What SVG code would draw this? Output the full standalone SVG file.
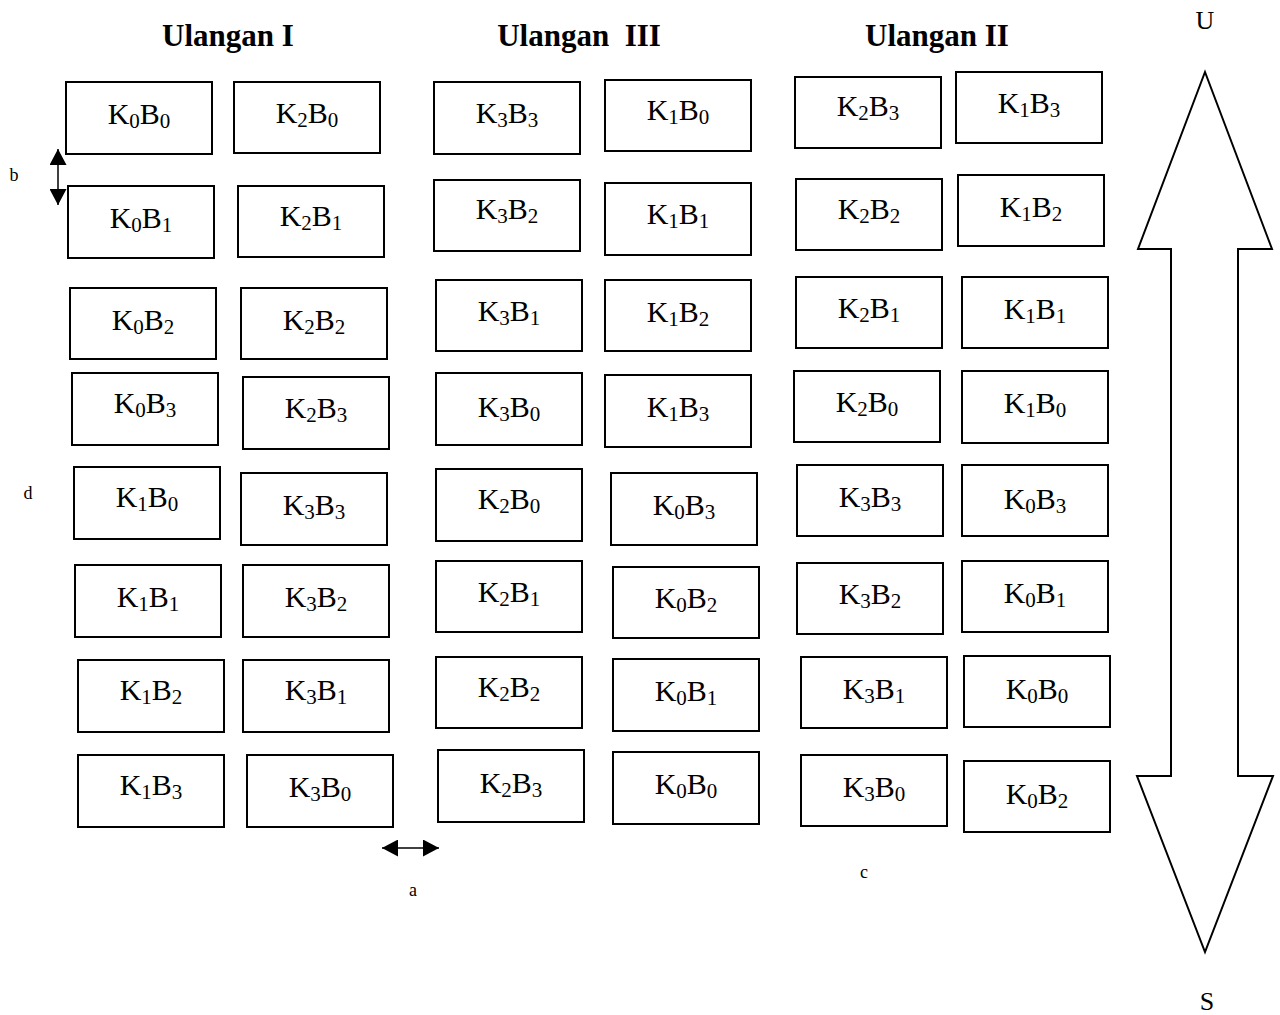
<svg xmlns="http://www.w3.org/2000/svg" width="1280" height="1015" viewBox="0 0 1280 1015">
<style>
  .bx { fill: #fff; stroke: #000; stroke-width: 2; }
  .lb { font-family: "Liberation Serif", "Times New Roman", serif; font-size: 30px; fill: #000; text-anchor: middle; }
  .s { font-size: 21px; }
  .ttl { font-family: "Liberation Serif", "Times New Roman", serif; font-size: 31px; font-weight: bold; fill: #000; text-anchor: middle; white-space: pre; }
  .sm { font-family: "Liberation Serif", "Times New Roman", serif; font-size: 18px; fill: #000; text-anchor: middle; }
  .dir { font-family: "Liberation Serif", "Times New Roman", serif; font-size: 26px; fill: #000; text-anchor: middle; }
  .cn { stroke: #000; stroke-width: 1.5; fill: none; }
</style>
<defs>
  <marker id="ah" markerUnits="userSpaceOnUse" markerWidth="17" markerHeight="17" refX="16" refY="8.5" orient="auto-start-reverse">
    <path d="M0,0 L16,8.5 L0,17 z" fill="#000"/>
  </marker>
</defs>
<rect width="1280" height="1015" fill="#fff"/>

<g id="titles">
  <text class="ttl" x="228" y="46">Ulangan I</text>
  <text class="ttl" x="579" y="46">Ulangan  III</text>
  <text class="ttl" x="937" y="46">Ulangan II</text>
</g>

<g id="col1">
  <g id="c1-K0B0"><rect class="bx" x="66" y="82" width="146" height="72"/><text class="lb" x="139" y="124">K<tspan class="s" dy="4">0</tspan><tspan dy="-4">B</tspan><tspan class="s" dy="4">0</tspan></text></g>
  <g id="c1-K0B1"><rect class="bx" x="68" y="186" width="146" height="72"/><text class="lb" x="141" y="228">K<tspan class="s" dy="4">0</tspan><tspan dy="-4">B</tspan><tspan class="s" dy="4">1</tspan></text></g>
  <g id="c1-K0B2"><rect class="bx" x="70" y="288" width="146" height="71"/><text class="lb" x="143" y="330">K<tspan class="s" dy="4">0</tspan><tspan dy="-4">B</tspan><tspan class="s" dy="4">2</tspan></text></g>
  <g id="c1-K0B3"><rect class="bx" x="72" y="373" width="146" height="72"/><text class="lb" x="145" y="413">K<tspan class="s" dy="4">0</tspan><tspan dy="-4">B</tspan><tspan class="s" dy="4">3</tspan></text></g>
  <g id="c1-K1B0"><rect class="bx" x="74" y="467" width="146" height="72"/><text class="lb" x="147" y="507">K<tspan class="s" dy="4">1</tspan><tspan dy="-4">B</tspan><tspan class="s" dy="4">0</tspan></text></g>
  <g id="c1-K1B1"><rect class="bx" x="75" y="565" width="146" height="72"/><text class="lb" x="148" y="607">K<tspan class="s" dy="4">1</tspan><tspan dy="-4">B</tspan><tspan class="s" dy="4">1</tspan></text></g>
  <g id="c1-K1B2"><rect class="bx" x="78" y="660" width="146" height="72"/><text class="lb" x="151" y="700">K<tspan class="s" dy="4">1</tspan><tspan dy="-4">B</tspan><tspan class="s" dy="4">2</tspan></text></g>
  <g id="c1-K1B3"><rect class="bx" x="78" y="755" width="146" height="72"/><text class="lb" x="151" y="795">K<tspan class="s" dy="4">1</tspan><tspan dy="-4">B</tspan><tspan class="s" dy="4">3</tspan></text></g>
</g>

<g id="col2">
  <g id="c2-K2B0"><rect class="bx" x="234" y="82" width="146" height="71"/><text class="lb" x="307" y="123">K<tspan class="s" dy="4">2</tspan><tspan dy="-4">B</tspan><tspan class="s" dy="4">0</tspan></text></g>
  <g id="c2-K2B1"><rect class="bx" x="238" y="186" width="146" height="71"/><text class="lb" x="311" y="226">K<tspan class="s" dy="4">2</tspan><tspan dy="-4">B</tspan><tspan class="s" dy="4">1</tspan></text></g>
  <g id="c2-K2B2"><rect class="bx" x="241" y="288" width="146" height="71"/><text class="lb" x="314" y="330">K<tspan class="s" dy="4">2</tspan><tspan dy="-4">B</tspan><tspan class="s" dy="4">2</tspan></text></g>
  <g id="c2-K2B3"><rect class="bx" x="243" y="377" width="146" height="72"/><text class="lb" x="316" y="418">K<tspan class="s" dy="4">2</tspan><tspan dy="-4">B</tspan><tspan class="s" dy="4">3</tspan></text></g>
  <g id="c2-K3B3"><rect class="bx" x="241" y="473" width="146" height="72"/><text class="lb" x="314" y="515">K<tspan class="s" dy="4">3</tspan><tspan dy="-4">B</tspan><tspan class="s" dy="4">3</tspan></text></g>
  <g id="c2-K3B2"><rect class="bx" x="243" y="565" width="146" height="72"/><text class="lb" x="316" y="607">K<tspan class="s" dy="4">3</tspan><tspan dy="-4">B</tspan><tspan class="s" dy="4">2</tspan></text></g>
  <g id="c2-K3B1"><rect class="bx" x="243" y="660" width="146" height="72"/><text class="lb" x="316" y="700">K<tspan class="s" dy="4">3</tspan><tspan dy="-4">B</tspan><tspan class="s" dy="4">1</tspan></text></g>
  <g id="c2-K3B0"><rect class="bx" x="247" y="755" width="146" height="72"/><text class="lb" x="320" y="797">K<tspan class="s" dy="4">3</tspan><tspan dy="-4">B</tspan><tspan class="s" dy="4">0</tspan></text></g>
</g>

<g id="col3">
  <g id="c3-K3B3"><rect class="bx" x="434" y="82" width="146" height="72"/><text class="lb" x="507" y="123">K<tspan class="s" dy="4">3</tspan><tspan dy="-4">B</tspan><tspan class="s" dy="4">3</tspan></text></g>
  <g id="c3-K3B2"><rect class="bx" x="434" y="180" width="146" height="71"/><text class="lb" x="507" y="219">K<tspan class="s" dy="4">3</tspan><tspan dy="-4">B</tspan><tspan class="s" dy="4">2</tspan></text></g>
  <g id="c3-K3B1"><rect class="bx" x="436" y="280" width="146" height="71"/><text class="lb" x="509" y="321">K<tspan class="s" dy="4">3</tspan><tspan dy="-4">B</tspan><tspan class="s" dy="4">1</tspan></text></g>
  <g id="c3-K3B0"><rect class="bx" x="436" y="373" width="146" height="72"/><text class="lb" x="509" y="417">K<tspan class="s" dy="4">3</tspan><tspan dy="-4">B</tspan><tspan class="s" dy="4">0</tspan></text></g>
  <g id="c3-K2B0"><rect class="bx" x="436" y="469" width="146" height="72"/><text class="lb" x="509" y="509">K<tspan class="s" dy="4">2</tspan><tspan dy="-4">B</tspan><tspan class="s" dy="4">0</tspan></text></g>
  <g id="c3-K2B1"><rect class="bx" x="436" y="561" width="146" height="71"/><text class="lb" x="509" y="602">K<tspan class="s" dy="4">2</tspan><tspan dy="-4">B</tspan><tspan class="s" dy="4">1</tspan></text></g>
  <g id="c3-K2B2"><rect class="bx" x="436" y="657" width="146" height="71"/><text class="lb" x="509" y="697">K<tspan class="s" dy="4">2</tspan><tspan dy="-4">B</tspan><tspan class="s" dy="4">2</tspan></text></g>
  <g id="c3-K2B3"><rect class="bx" x="438" y="750" width="146" height="72"/><text class="lb" x="511" y="793">K<tspan class="s" dy="4">2</tspan><tspan dy="-4">B</tspan><tspan class="s" dy="4">3</tspan></text></g>
</g>

<g id="col4">
  <g id="c4-K1B0"><rect class="bx" x="605" y="80" width="146" height="71"/><text class="lb" x="678" y="120">K<tspan class="s" dy="4">1</tspan><tspan dy="-4">B</tspan><tspan class="s" dy="4">0</tspan></text></g>
  <g id="c4-K1B1"><rect class="bx" x="605" y="183" width="146" height="72"/><text class="lb" x="678" y="224">K<tspan class="s" dy="4">1</tspan><tspan dy="-4">B</tspan><tspan class="s" dy="4">1</tspan></text></g>
  <g id="c4-K1B2"><rect class="bx" x="605" y="280" width="146" height="71"/><text class="lb" x="678" y="322">K<tspan class="s" dy="4">1</tspan><tspan dy="-4">B</tspan><tspan class="s" dy="4">2</tspan></text></g>
  <g id="c4-K1B3"><rect class="bx" x="605" y="375" width="146" height="72"/><text class="lb" x="678" y="417">K<tspan class="s" dy="4">1</tspan><tspan dy="-4">B</tspan><tspan class="s" dy="4">3</tspan></text></g>
  <g id="c4-K0B3"><rect class="bx" x="611" y="473" width="146" height="72"/><text class="lb" x="684" y="515">K<tspan class="s" dy="4">0</tspan><tspan dy="-4">B</tspan><tspan class="s" dy="4">3</tspan></text></g>
  <g id="c4-K0B2"><rect class="bx" x="613" y="567" width="146" height="71"/><text class="lb" x="686" y="608">K<tspan class="s" dy="4">0</tspan><tspan dy="-4">B</tspan><tspan class="s" dy="4">2</tspan></text></g>
  <g id="c4-K0B1"><rect class="bx" x="613" y="659" width="146" height="72"/><text class="lb" x="686" y="701">K<tspan class="s" dy="4">0</tspan><tspan dy="-4">B</tspan><tspan class="s" dy="4">1</tspan></text></g>
  <g id="c4-K0B0"><rect class="bx" x="613" y="752" width="146" height="72"/><text class="lb" x="686" y="794">K<tspan class="s" dy="4">0</tspan><tspan dy="-4">B</tspan><tspan class="s" dy="4">0</tspan></text></g>
</g>

<g id="col5">
  <g id="c5-K2B3"><rect class="bx" x="795" y="77" width="146" height="71"/><text class="lb" x="868" y="116">K<tspan class="s" dy="4">2</tspan><tspan dy="-4">B</tspan><tspan class="s" dy="4">3</tspan></text></g>
  <g id="c5-K2B2"><rect class="bx" x="796" y="179" width="146" height="71"/><text class="lb" x="869" y="219">K<tspan class="s" dy="4">2</tspan><tspan dy="-4">B</tspan><tspan class="s" dy="4">2</tspan></text></g>
  <g id="c5-K2B1"><rect class="bx" x="796" y="277" width="146" height="71"/><text class="lb" x="869" y="318">K<tspan class="s" dy="4">2</tspan><tspan dy="-4">B</tspan><tspan class="s" dy="4">1</tspan></text></g>
  <g id="c5-K2B0"><rect class="bx" x="794" y="371" width="146" height="71"/><text class="lb" x="867" y="412">K<tspan class="s" dy="4">2</tspan><tspan dy="-4">B</tspan><tspan class="s" dy="4">0</tspan></text></g>
  <g id="c5-K3B3"><rect class="bx" x="797" y="465" width="146" height="71"/><text class="lb" x="870" y="507">K<tspan class="s" dy="4">3</tspan><tspan dy="-4">B</tspan><tspan class="s" dy="4">3</tspan></text></g>
  <g id="c5-K3B2"><rect class="bx" x="797" y="563" width="146" height="71"/><text class="lb" x="870" y="604">K<tspan class="s" dy="4">3</tspan><tspan dy="-4">B</tspan><tspan class="s" dy="4">2</tspan></text></g>
  <g id="c5-K3B1"><rect class="bx" x="801" y="657" width="146" height="71"/><text class="lb" x="874" y="699">K<tspan class="s" dy="4">3</tspan><tspan dy="-4">B</tspan><tspan class="s" dy="4">1</tspan></text></g>
  <g id="c5-K3B0"><rect class="bx" x="801" y="755" width="146" height="71"/><text class="lb" x="874" y="797">K<tspan class="s" dy="4">3</tspan><tspan dy="-4">B</tspan><tspan class="s" dy="4">0</tspan></text></g>
</g>

<g id="col6">
  <g id="c6-K1B3"><rect class="bx" x="956" y="72" width="146" height="71"/><text class="lb" x="1029" y="113">K<tspan class="s" dy="4">1</tspan><tspan dy="-4">B</tspan><tspan class="s" dy="4">3</tspan></text></g>
  <g id="c6-K1B2"><rect class="bx" x="958" y="175" width="146" height="71"/><text class="lb" x="1031" y="217">K<tspan class="s" dy="4">1</tspan><tspan dy="-4">B</tspan><tspan class="s" dy="4">2</tspan></text></g>
  <g id="c6-K1B1"><rect class="bx" x="962" y="277" width="146" height="71"/><text class="lb" x="1035" y="319">K<tspan class="s" dy="4">1</tspan><tspan dy="-4">B</tspan><tspan class="s" dy="4">1</tspan></text></g>
  <g id="c6-K1B0"><rect class="bx" x="962" y="371" width="146" height="72"/><text class="lb" x="1035" y="413">K<tspan class="s" dy="4">1</tspan><tspan dy="-4">B</tspan><tspan class="s" dy="4">0</tspan></text></g>
  <g id="c6-K0B3"><rect class="bx" x="962" y="465" width="146" height="71"/><text class="lb" x="1035" y="509">K<tspan class="s" dy="4">0</tspan><tspan dy="-4">B</tspan><tspan class="s" dy="4">3</tspan></text></g>
  <g id="c6-K0B1"><rect class="bx" x="962" y="561" width="146" height="71"/><text class="lb" x="1035" y="603">K<tspan class="s" dy="4">0</tspan><tspan dy="-4">B</tspan><tspan class="s" dy="4">1</tspan></text></g>
  <g id="c6-K0B0"><rect class="bx" x="964" y="656" width="146" height="71"/><text class="lb" x="1037" y="699">K<tspan class="s" dy="4">0</tspan><tspan dy="-4">B</tspan><tspan class="s" dy="4">0</tspan></text></g>
  <g id="c6-K0B2"><rect class="bx" x="964" y="761" width="146" height="71"/><text class="lb" x="1037" y="804">K<tspan class="s" dy="4">0</tspan><tspan dy="-4">B</tspan><tspan class="s" dy="4">2</tspan></text></g>
</g>

<g id="compass">
  <polygon points="1205,72 1272,249 1238,249 1238,776 1273,776 1205,952 1137,776 1171,776 1171,249 1138,249" fill="#fff" stroke="#000" stroke-width="2" stroke-linejoin="miter"/>
  <text class="dir" x="1205" y="29">U</text>
  <text class="dir" x="1207" y="1010">S</text>
</g>

<g id="connectors">
  <line class="cn" x1="58" y1="149" x2="58" y2="205" marker-start="url(#ah)" marker-end="url(#ah)"/>
  <line class="cn" x1="382" y1="848" x2="439" y2="848" marker-start="url(#ah)" marker-end="url(#ah)"/>
</g>

<g id="labels">
  <text class="sm" x="14" y="181">b</text>
  <text class="sm" x="28" y="499">d</text>
  <text class="sm" x="413" y="896">a</text>
  <text class="sm" x="864" y="878">c</text>
</g>
</svg>
